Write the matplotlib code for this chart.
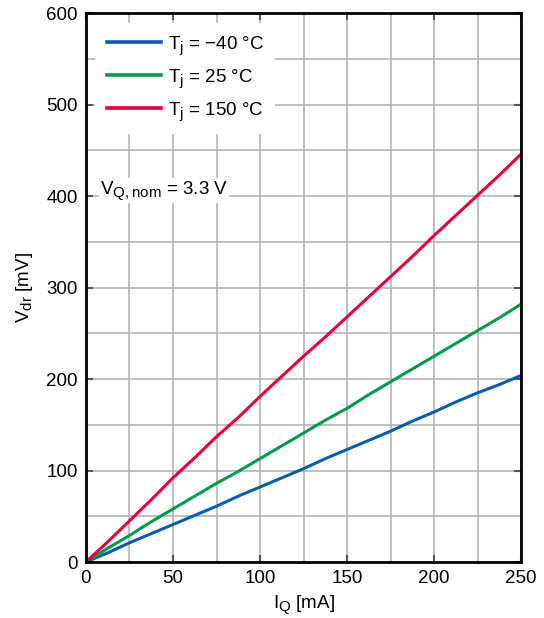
import matplotlib
matplotlib.use("Agg")
import matplotlib.pyplot as plt
import matplotlib._mathtext as mt
import numpy as np

plt.rcParams['font.family'] = ['Liberation Sans', 'DejaVu Sans']
plt.rcParams['mathtext.default'] = 'regular'
mt.SHRINK_FACTOR = 0.8  # subscripts a bit bigger, as in the datasheet

# drop-out voltage vs output current
i_q = [0, 12.5, 25, 37.5, 50, 62.5, 75, 87.5, 100, 112.5, 125, 137.5, 150,
       162.5, 175, 187.5, 200, 212.5, 225, 237.5, 250]
v_m40 = [0, 10, 21, 31, 41, 51, 61, 72, 82, 92, 102, 113, 123,
         133, 143, 154, 164, 175, 185, 194, 204]
v_25 = [0, 15, 29, 44, 58, 72, 86, 99, 113, 127, 141, 155, 168,
        183, 197, 211, 225, 239, 253, 267, 282]
v_150 = [0, 22, 45, 68, 92, 114, 137, 158, 181, 203, 225, 246, 268,
         290, 312, 334, 357, 379, 401, 423, 446]

labels = ['T$_j$ = \u221240 \u00b0C', 'T$_j$ = 25 \u00b0C', 'T$_j$ = 150 \u00b0C']
colors = ['#0a5cad', '#009a4e', '#e4003b']
fs = 13.5

fig = plt.figure(figsize=(5.44, 6.18), dpi=100)
ax = fig.add_axes([0.158, 0.0906, 0.8, 0.888])

for v, lab, c in zip([v_m40, v_25, v_150], labels, colors):
    ax.plot(i_q, v, color=c, lw=2.2, label=lab)

ax.set_xlim(0, 250)
ax.set_ylim(0, 600)
ax.set_xticks(np.arange(0, 251, 50))
ax.set_yticks(np.arange(0, 601, 100))
ax.set_xticks(np.arange(0, 251, 25), minor=True)
ax.set_yticks(np.arange(0, 601, 50), minor=True)
ax.grid(True, which='both', color='#b4b4b4', lw=1.2)
ax.set_axisbelow(True)
ax.tick_params(which='major', direction='in', top=True, right=True,
               length=5, width=1.5, labelsize=fs, color='#555555', pad=6)
ax.tick_params(which='minor', length=0)
for s in ax.spines.values():
    s.set_linewidth(2)

ax.set_xlabel('I$_Q$ [mA]', fontsize=fs, labelpad=4)
ax.set_ylabel('V$_{dr}$ [mV]', fontsize=fs, labelpad=8)

leg = ax.legend(loc='upper left', frameon=True, fontsize=fs, handlelength=2.9,
                handletextpad=0.35, borderpad=0.6, labelspacing=0.55,
                fancybox=False, bbox_to_anchor=(0.0, 1.0))
leg.get_frame().set_edgecolor('none')
leg.get_frame().set_facecolor('white')
leg.get_frame().set_alpha(1)
for line in leg.get_lines():
    line.set_linewidth(2.6)

ax.text(8, 406, 'V$_{Q,nom}$ = 3.3 V', fontsize=fs, va='center', ha='left',
        bbox=dict(facecolor='white', edgecolor='none', pad=1))

fig.savefig('out.png', dpi=100)
